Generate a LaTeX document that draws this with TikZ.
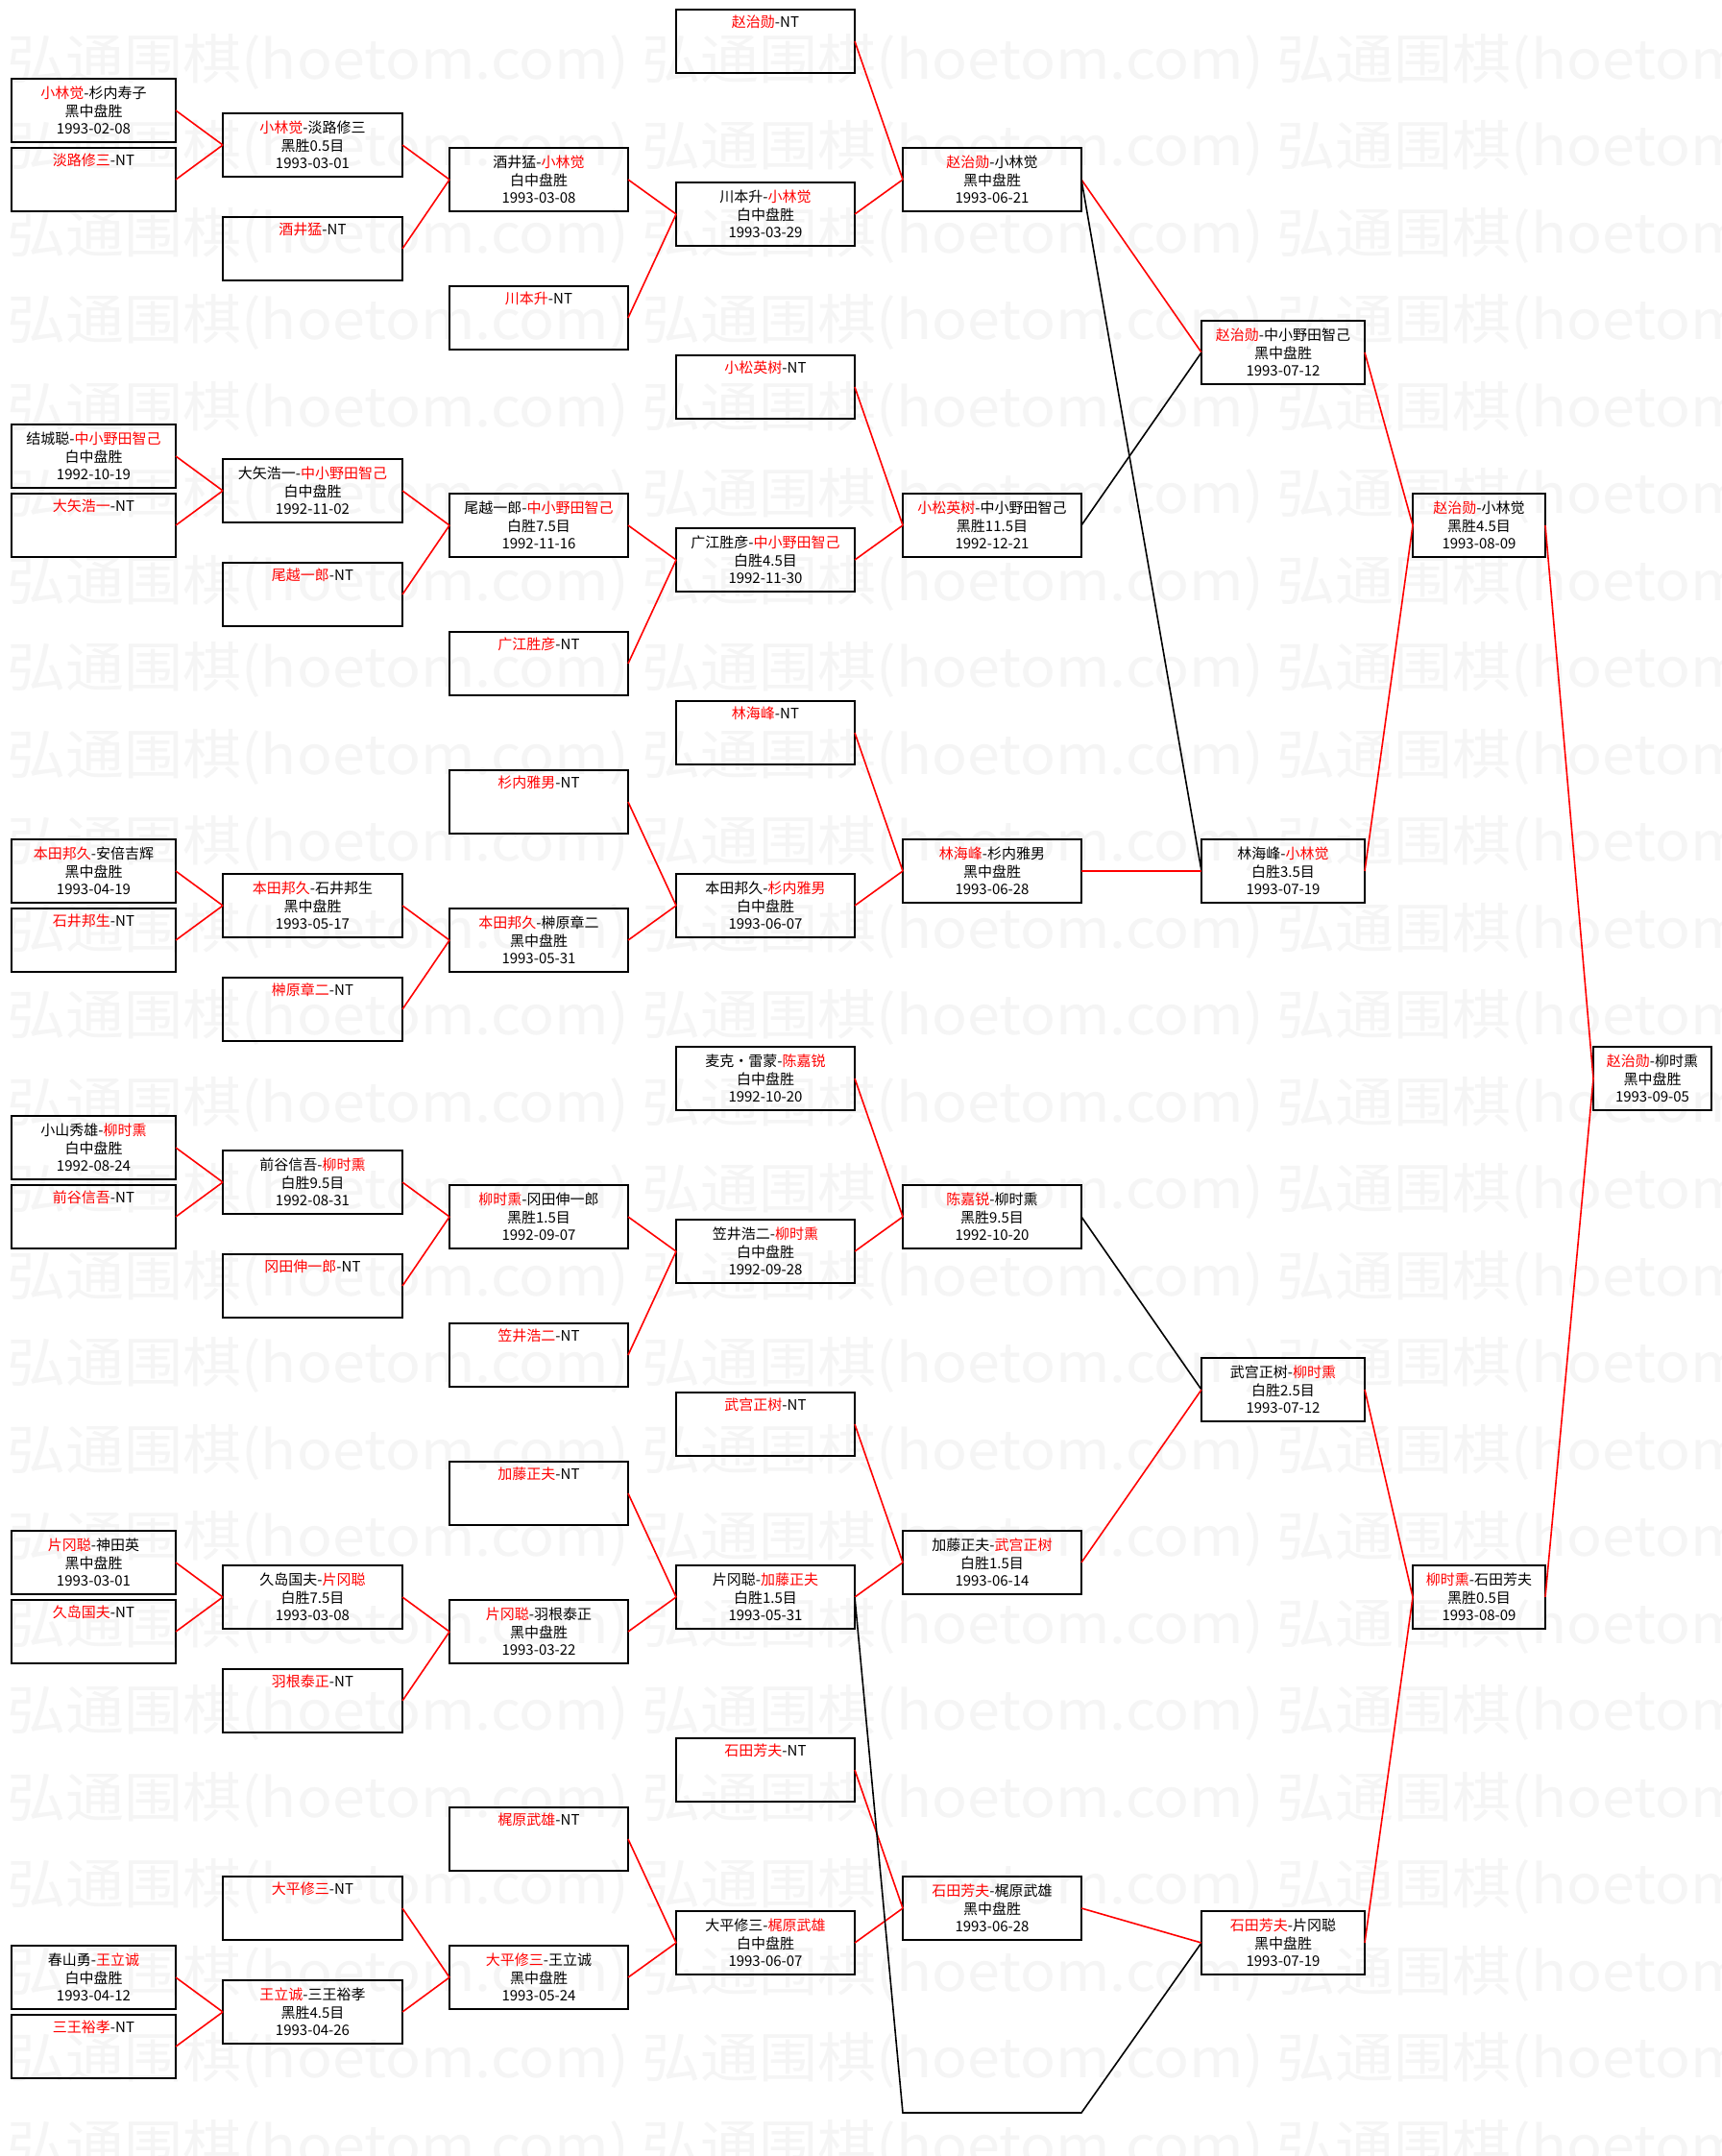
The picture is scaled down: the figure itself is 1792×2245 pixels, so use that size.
\documentclass[tikz,border=0pt]{standalone}
\usepackage{fontspec}
\usepackage{graphicx}
\setmainfont{Noto Sans CJK SC}
\newcommand{\R}[1]{\textcolor{red}{#1}}
\tikzset{
  box/.style={draw=black, line width=2pt, anchor=north west, minimum height=66pt, inner sep=0pt, outer sep=0pt, align=center, font=\fontsize{15}{18.5}\selectfont, text=black},
  win/.style={draw=red, line width=1.6pt},
  lose/.style={draw=black, line width=1.6pt},
  wmark/.style={text=black!4, font=\fontsize{56}{60}\selectfont, anchor=west, inner sep=0pt}
}
% box: name, width, x, y, line1, line2, line3
\newcommand{\BX}[7]{\node[box, minimum width=#2pt] (#1) at (#3,#4) {#5\\#6\\#7};}
\newcommand{\NT}[5]{\node[box, minimum width=#2pt] (#1) at (#3,#4) {#5-NT\\\strut\\\strut};}
\begin{document}
\begin{tikzpicture}[x=1pt,y=-1pt]
\fill[white] (0,0) rectangle (1792,2245);
\useasboundingbox (0,0) rectangle (1792,2245);
% watermark
\foreach \i in {0,...,24}{
  \foreach \xx in {7,668,1329}{
    \node[wmark] (wm-\i-\xx) at (\xx, 64+90.5*\i) {\scalebox{1.09}[1]{弘通围棋(hoetom.com)}};
  }
}
% ---------- section 1 ----------
\NT{s1d0}{186}{704}{10}{\R{赵治勋}}
\BX{s1a1}{171}{12}{82}{\R{小林觉}-杉内寿子}{黑中盘胜}{1993-02-08}
\NT{s1a2}{171}{12}{154}{\R{淡路修三}}
\BX{s1b1}{187}{232}{118}{\R{小林觉}-淡路修三}{黑胜0.5目}{1993-03-01}
\NT{s1b2}{187}{232}{226}{\R{酒井猛}}
\BX{s1c1}{186}{468}{154}{酒井猛-\R{小林觉}}{白中盘胜}{1993-03-08}
\NT{s1c2}{186}{468}{298}{\R{川本升}}
\BX{s1d1}{186}{704}{190}{川本升-\R{小林觉}}{白中盘胜}{1993-03-29}
\BX{s1e}{186}{940}{154}{\R{赵治勋}-小林觉}{黑中盘胜}{1993-06-21}
% ---------- section 2 ----------
\NT{s2d0}{186}{704}{370}{\R{小松英树}}
\BX{s2a1}{171}{12}{442}{结城聪-\R{中小野田智己}}{白中盘胜}{1992-10-19}
\NT{s2a2}{171}{12}{514}{\R{大矢浩一}}
\BX{s2b1}{187}{232}{478}{大矢浩一-\R{中小野田智己}}{白中盘胜}{1992-11-02}
\NT{s2b2}{187}{232}{586}{\R{尾越一郎}}
\BX{s2c1}{186}{468}{514}{尾越一郎-\R{中小野田智己}}{白胜7.5目}{1992-11-16}
\NT{s2c2}{186}{468}{658}{\R{广江胜彦}}
\BX{s2d1}{186}{704}{550}{广江胜彦-\R{中小野田智己}}{白胜4.5目}{1992-11-30}
\BX{s2e}{186}{940}{514}{\R{小松英树}-中小野田智己}{黑胜11.5目}{1992-12-21}
% ---------- section 3 ----------
\NT{s3d0}{186}{704}{730}{\R{林海峰}}
\NT{s3c0}{186}{468}{802}{\R{杉内雅男}}
\BX{s3a1}{171}{12}{874}{\R{本田邦久}-安倍吉辉}{黑中盘胜}{1993-04-19}
\NT{s3a2}{171}{12}{946}{\R{石井邦生}}
\BX{s3b1}{187}{232}{910}{\R{本田邦久}-石井邦生}{黑中盘胜}{1993-05-17}
\NT{s3b2}{187}{232}{1018}{\R{榊原章二}}
\BX{s3c1}{186}{468}{946}{\R{本田邦久}-榊原章二}{黑中盘胜}{1993-05-31}
\BX{s3d1}{186}{704}{910}{本田邦久-\R{杉内雅男}}{白中盘胜}{1993-06-07}
\BX{s3e}{186}{940}{874}{\R{林海峰}-杉内雅男}{黑中盘胜}{1993-06-28}
% ---------- section 4 ----------
\BX{s4d0}{186}{704}{1090}{麦克·雷蒙-\R{陈嘉锐}}{白中盘胜}{1992-10-20}
\BX{s4a1}{171}{12}{1162}{小山秀雄-\R{柳时熏}}{白中盘胜}{1992-08-24}
\NT{s4a2}{171}{12}{1234}{\R{前谷信吾}}
\BX{s4b1}{187}{232}{1198}{前谷信吾-\R{柳时熏}}{白胜9.5目}{1992-08-31}
\NT{s4b2}{187}{232}{1306}{\R{冈田伸一郎}}
\BX{s4c1}{186}{468}{1234}{\R{柳时熏}-冈田伸一郎}{黑胜1.5目}{1992-09-07}
\NT{s4c2}{186}{468}{1378}{\R{笠井浩二}}
\BX{s4d1}{186}{704}{1270}{笠井浩二-\R{柳时熏}}{白中盘胜}{1992-09-28}
\BX{s4e}{186}{940}{1234}{\R{陈嘉锐}-柳时熏}{黑胜9.5目}{1992-10-20}
% ---------- section 5 ----------
\NT{s5d0}{186}{704}{1450}{\R{武宫正树}}
\NT{s5c0}{186}{468}{1522}{\R{加藤正夫}}
\BX{s5a1}{171}{12}{1594}{\R{片冈聪}-神田英}{黑中盘胜}{1993-03-01}
\NT{s5a2}{171}{12}{1666}{\R{久岛国夫}}
\BX{s5b1}{187}{232}{1630}{久岛国夫-\R{片冈聪}}{白胜7.5目}{1993-03-08}
\NT{s5b2}{187}{232}{1738}{\R{羽根泰正}}
\BX{s5c1}{186}{468}{1666}{\R{片冈聪}-羽根泰正}{黑中盘胜}{1993-03-22}
\BX{s5d1}{186}{704}{1630}{片冈聪-\R{加藤正夫}}{白胜1.5目}{1993-05-31}
\BX{s5e}{186}{940}{1594}{加藤正夫-\R{武宫正树}}{白胜1.5目}{1993-06-14}
% ---------- section 6 ----------
\NT{s6d0}{186}{704}{1810}{\R{石田芳夫}}
\NT{s6c0}{186}{468}{1882}{\R{梶原武雄}}
\NT{s6b0}{187}{232}{1954}{\R{大平修三}}
\BX{s6a1}{171}{12}{2026}{春山勇-\R{王立诚}}{白中盘胜}{1993-04-12}
\NT{s6a2}{171}{12}{2098}{\R{三王裕孝}}
\BX{s6b1}{187}{232}{2062}{\R{王立诚}-三王裕孝}{黑胜4.5目}{1993-04-26}
\BX{s6c1}{186}{468}{2026}{\R{大平修三}-王立诚}{黑中盘胜}{1993-05-24}
\BX{s6d1}{186}{704}{1990}{大平修三-\R{梶原武雄}}{白中盘胜}{1993-06-07}
\BX{s6e}{186}{940}{1954}{\R{石田芳夫}-梶原武雄}{黑中盘胜}{1993-06-28}
% ---------- later rounds ----------
\BX{f1}{170}{1251}{334}{\R{赵治勋}-中小野田智己}{黑中盘胜}{1993-07-12}
\BX{f2}{170}{1251}{874}{林海峰-\R{小林觉}}{白胜3.5目}{1993-07-19}
\BX{f3}{170}{1251}{1414}{武宫正树-\R{柳时熏}}{白胜2.5目}{1993-07-12}
\BX{f4}{170}{1251}{1990}{\R{石田芳夫}-片冈聪}{黑中盘胜}{1993-07-19}
\BX{g1}{138}{1471}{514}{\R{赵治勋}-小林觉}{黑胜4.5目}{1993-08-09}
\BX{g2}{138}{1471}{1630}{\R{柳时熏}-石田芳夫}{黑胜0.5目}{1993-08-09}
\BX{h}{123}{1659}{1090}{\R{赵治勋}-柳时熏}{黑中盘胜}{1993-09-05}
% ---------- connectors ----------
\foreach \s in {s1,s2,s4}{
  \draw[win] (\s a1.east) -- (\s b1.west);
  \draw[win] (\s a2.east) -- (\s b1.west);
  \draw[win] (\s b1.east) -- (\s c1.west);
  \draw[win] (\s b2.east) -- (\s c1.west);
  \draw[win] (\s c1.east) -- (\s d1.west);
  \draw[win] (\s c2.east) -- (\s d1.west);
  \draw[win] (\s d0.east) -- (\s e.west);
  \draw[win] (\s d1.east) -- (\s e.west);
}
\foreach \s in {s3,s5}{
  \draw[win] (\s a1.east) -- (\s b1.west);
  \draw[win] (\s a2.east) -- (\s b1.west);
  \draw[win] (\s b1.east) -- (\s c1.west);
  \draw[win] (\s b2.east) -- (\s c1.west);
  \draw[win] (\s c0.east) -- (\s d1.west);
  \draw[win] (\s c1.east) -- (\s d1.west);
  \draw[win] (\s d0.east) -- (\s e.west);
  \draw[win] (\s d1.east) -- (\s e.west);
}
\draw[win] (s6a1.east) -- (s6b1.west);
\draw[win] (s6a2.east) -- (s6b1.west);
\draw[win] (s6b0.east) -- (s6c1.west);
\draw[win] (s6b1.east) -- (s6c1.west);
\draw[win] (s6c0.east) -- (s6d1.west);
\draw[win] (s6c1.east) -- (s6d1.west);
\draw[win] (s6d0.east) -- (s6e.west);
\draw[win] (s6d1.east) -- (s6e.west);
% quarter/semi finals
\draw[win] (s1e.east) -- (f1.west);
\draw[lose] (s2e.east) -- (f1.west);
\draw[lose] (s1e.east) -- (f2.west);
\draw[win] (s3e.east) -- (f2.west);
\draw[lose] (s4e.east) -- (f3.west);
\draw[win] (s5e.east) -- (f3.west);
\coordinate (bend1) at (940,2200);
\coordinate (bend2) at (1126,2200);
\draw[lose] (s5d1.east) -- (bend1) -- (bend2) -- (f4.west);
\draw[win] (s6e.east) -- (f4.west);
\draw[win] (f1.east) -- (g1.west);
\draw[win] (f2.east) -- (g1.west);
\draw[win] (f3.east) -- (g2.west);
\draw[win] (f4.east) -- (g2.west);
\draw[win] (g1.east) -- (h.west);
\draw[win] (g2.east) -- (h.west);
\end{tikzpicture}
\end{document}
